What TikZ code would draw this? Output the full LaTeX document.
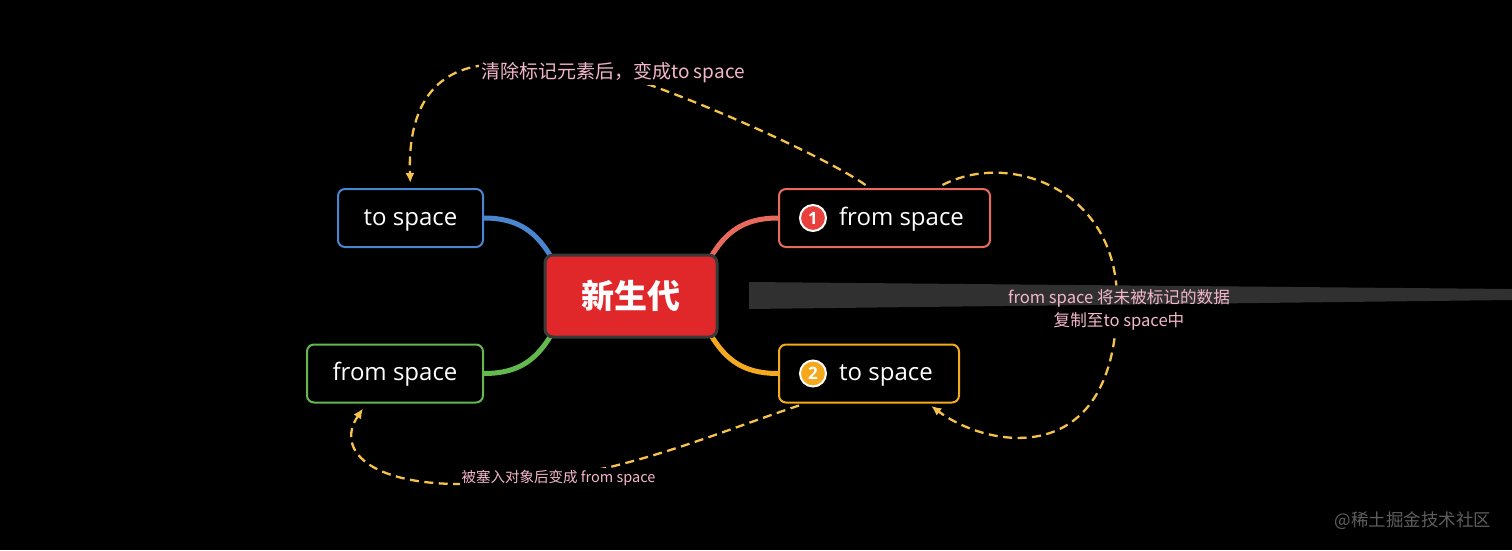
\documentclass[tikz,border=0pt]{standalone}
\usepackage{fontspec}
\setmainfont{Open Sans}
\newfontfamily\cjk{Noto Sans CJK SC}
\usetikzlibrary{arrows.meta,backgrounds}
\definecolor{bluec}{HTML}{4A86D0}
\definecolor{greenc}{HTML}{63B84E}
\definecolor{coralc}{HTML}{E86A5C}
\definecolor{orangec}{HTML}{F4AA1E}
\definecolor{mainc}{HTML}{E0282B}
\definecolor{mainb}{HTML}{3A3A3A}
\definecolor{dashc}{HTML}{F5C24C}
\definecolor{pinkc}{HTML}{F3B7CB}
\definecolor{barc}{HTML}{303030}
\definecolor{wmc}{HTML}{5E5E5E}
\definecolor{bonec}{HTML}{E8403C}
\definecolor{btwoc}{HTML}{F5A81C}
\begin{document}
\begin{tikzpicture}[x=1pt,y=-1pt,
  box/.style={draw, line width=2pt, rounded corners=7pt, minimum height=58pt,
    inner sep=0pt, text height=16pt, text depth=2pt, text=white,
    font=\fontsize{24}{28}\selectfont},
  branch/.style={line width=5pt},
  flow/.style={draw=dashc, line width=2.3pt, dash pattern=on 9pt off 5.5pt},
  tipend/.style={-{Latex[length=10pt,width=9pt]}},
  lbl/.style={text=pinkc, inner sep=2pt},
  badge/.style={circle, draw=white, line width=2pt, minimum size=26pt,
    inner sep=0pt, text=white, font=\bfseries\fontsize{17}{17}\selectfont}
]
\useasboundingbox (0,0) rectangle (1512,550);

% nodes
\node[draw=mainb, fill=mainc, line width=3pt, rounded corners=8pt,
  minimum width=172pt, minimum height=82pt, inner sep=0pt, text=white,
  font=\cjk\bfseries\fontsize{33}{36}\selectfont] (main) at (631,296) {新生代};
\node[box, draw=bluec, minimum width=145pt] (toL) at (410.5,218) {to space};
\node[box, draw=greenc, minimum width=176pt] (fromL) at (395,373.5) {from space};
\node[box, draw=coralc, minimum width=211pt] (fromR) at (884.5,218) {\hspace*{34pt}from space};
\node[box, draw=orangec, minimum width=180pt] (toR) at (869,373.5) {\hspace*{34pt}to space};
\node[badge, fill=bonec] (bone) at (813,218) {1};
\node[badge, fill=btwoc] (btwo) at (813,373.5) {2};

\begin{pgfonlayer}{background}
  \fill[black] (0,0) rectangle (1512,550);
  \draw[branch, bluec] (toL.east) .. controls +(35,0) and +(-15,-25) .. ([shift={(8,4)}]main.north west);
  \draw[branch, greenc] (fromL.east) .. controls +(35,0) and +(-15,25) .. ([shift={(8,-4)}]main.south west);
  \draw[branch, coralc] (fromR.west) .. controls +(-35,0) and +(15,-25) .. ([shift={(-8,4)}]main.north east);
  \draw[branch, orangec] (toR.west) .. controls +(-35,0) and +(15,25) .. ([shift={(-8,-4)}]main.south east);
\end{pgfonlayer}

% flow A: from space -> to space (top)
\draw[flow, tipend, shorten >=5pt] ([shift={(-19,-3)}]fromR.north)
  .. controls (830,160) and (720,110) .. (650,85)
  .. controls (590,70) and (540,55) .. (478,66)
  .. controls (425,75) and (408,120) .. (toL.north);
\node[lbl, fill=black, font=\cjk\fontsize{19}{22}\selectfont] (lblA) at (613,73) {清除标记元素后，变成to space};

% flow B: to space -> from space (bottom)
\draw[flow, tipend] ([shift={(-70,2)}]toR.south)
  .. controls (740,425) and (680,450) .. (610,467)
  .. controls (560,478) and (510,486) .. (460,484)
  .. controls (370,484) and (335,450) .. ([shift={(-32,5)}]fromL.south);
\node[lbl, fill=black, font=\cjk\fontsize{14.5}{17}\selectfont] (lblB) at (558.5,478) {被塞入对象后变成 from space};

% flow C: from space -> to space (right loop)
\draw[flow, tipend, shorten >=4pt] ([shift={(58,-3)}]fromR.north)
  .. controls (1010,150) and (1117,190) .. (1117,300)
  .. controls (1117,470) and (990,450) .. ([xshift=59]toR.south);
\fill[black] (1002,287) rectangle (1237,333);
\fill[barc] (749,282) -- (1512,289) -- (1512,300) -- (749,309) -- cycle;
\node[lbl, align=center, font=\cjk\fontsize{16.6}{23}\selectfont] (lblC) at (1119,310) {from space 将未被标记的数据\\复制至to space中};

\node[text=wmc, font=\cjk\fontsize{17.5}{20}\selectfont, inner sep=0pt] (wm) at (1413,521) {@稀土掘金技术社区};
\end{tikzpicture}
\end{document}
